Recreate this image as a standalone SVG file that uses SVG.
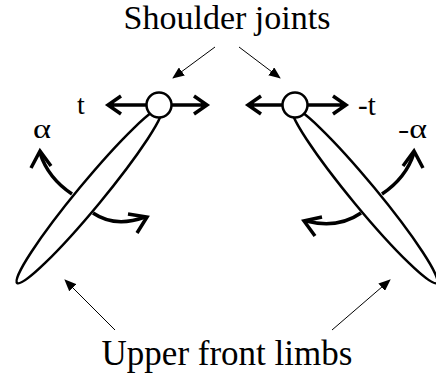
<svg xmlns="http://www.w3.org/2000/svg" width="436" height="374" viewBox="0 0 436 374">
<style>
.lbl{fill:#000}
.thick{fill:none;stroke:#000;stroke-width:3.5;stroke-linecap:butt;stroke-linejoin:miter}
.limb{fill:#fff;stroke:#000;stroke-width:2.5}
.joint{fill:#fff;stroke:#000;stroke-width:2.5}
.thin{fill:none;stroke:#000;stroke-width:1}
</style>
<defs>
<marker id="tri" viewBox="0 0 12 10" refX="11" refY="5" markerWidth="12" markerHeight="10" markerUnits="userSpaceOnUse" orient="auto">
<path d="M0,0 L12,5 L0,10 Z" fill="#000"/>
</marker>
</defs>
<rect width="436" height="374" fill="#fff"/>
<g id="labels" font-family="'Liberation Serif', 'DejaVu Serif', serif">
<text class="lbl" x="227" y="29" font-size="34" text-anchor="middle">Shoulder joints</text>
<text class="lbl" x="227" y="365" font-size="35" text-anchor="middle">Upper front limbs</text>
</g>
<g id="connectors">
<line class="thin" x1="215" y1="47" x2="173" y2="78" marker-end="url(#tri)"/>
<line class="thin" x1="239" y1="47" x2="280" y2="78" marker-end="url(#tri)"/>
<line class="thin" x1="115" y1="330" x2="65" y2="280" marker-end="url(#tri)"/>
<line class="thin" x1="332" y1="330" x2="390" y2="280" marker-end="url(#tri)"/>
</g>
<g id="left-limb" font-family="'Liberation Serif', 'DejaVu Serif', serif">
<ellipse class="limb" cx="89.5" cy="195.5" rx="113.5" ry="12.5" transform="rotate(-50.4 89.5 195.5)"/>
<path class="thick" d="M72,194 Q48,178 40,153"/>
<path class="thick" d="M31,168 L40,151 L51,166"/>
<path class="thick" d="M93,213 Q115,228 145,217"/>
<path class="thick" d="M128,214 L147,217 L137,233"/>
<text class="lbl" x="33" y="138" font-size="28" textLength="18" lengthAdjust="spacingAndGlyphs">α</text>
</g>
<g id="left-joint" font-family="'Liberation Serif', 'DejaVu Serif', serif">
<path class="thick" d="M108,105 H207 M121,96 L108,105 L121,114 M194,96 L207,105 L194,114"/>
<circle class="joint" cx="159" cy="105" r="12.5"/>
<text class="lbl" x="77" y="114" font-size="28">t</text>
</g>
<g id="right-limb" font-family="'Liberation Serif', 'DejaVu Serif', serif">
<ellipse class="limb" cx="364.5" cy="195.5" rx="113.5" ry="12.5" transform="rotate(50.4 364.5 195.5)"/>
<path class="thick" d="M382,194 Q406,178 414,153"/>
<path class="thick" d="M423,168 L414,151 L403,166"/>
<path class="thick" d="M361,213 Q338,229 306,221"/>
<path class="thick" d="M322,217 L304,221 L315,236"/>
<text class="lbl" x="398" y="138" font-size="28" textLength="29" lengthAdjust="spacingAndGlyphs">-α</text>
</g>
<g id="right-joint" font-family="'Liberation Serif', 'DejaVu Serif', serif">
<path class="thick" d="M248,105 H346 M261,96 L248,105 L261,114 M333,96 L346,105 L333,114"/>
<circle class="joint" cx="295" cy="105" r="12.5"/>
<text class="lbl" x="358" y="115" font-size="29">-t</text>
</g>
</svg>
